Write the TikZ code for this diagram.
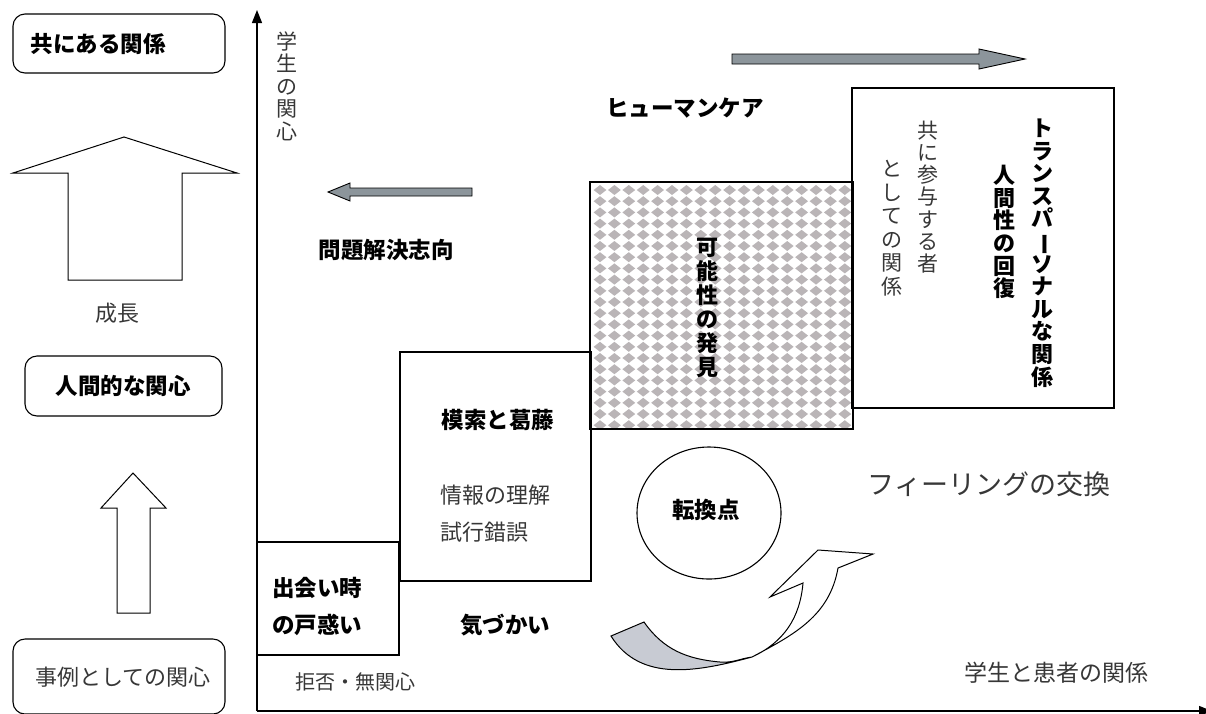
\documentclass[tikz,border=0pt]{standalone}
\usepackage{fontspec}
\usepackage{graphicx}
\newfontfamily\jp{Noto Sans CJK JP}
\usetikzlibrary{arrows.meta}
\definecolor{arrgray}{RGB}{140,149,155}
\definecolor{dia}{RGB}{186,181,183}
\definecolor{shadec}{RGB}{200,203,211}
\definecolor{lt}{RGB}{55,55,55}
\newcommand{\vbar}{\rotatebox[origin=c]{-90}{ー}}
\begin{document}
\begin{tikzpicture}[x=1pt,y=-1pt,line join=miter,
  rbox/.style={draw,line width=1.1pt,rounded corners=12pt},
  sbox/.style={draw,line width=1.2pt},
  garr/.style={draw,line width=0.9pt,fill=arrgray},
  warr/.style={draw,line width=1pt,fill=white},
  jb/.style={font=\jp\bfseries\fontsize{22.5}{27}\selectfont,inner sep=0pt},
  jl/.style={font=\jp\fontsize{22}{27}\selectfont,text=lt,inner sep=0pt},
  jbv/.style={font=\jp\bfseries\fontsize{22}{23}\selectfont,inner sep=0pt,align=center},
  jlv/.style={font=\jp\fontsize{21}{22.5}\selectfont,text=lt,inner sep=0pt,align=center}]
\useasboundingbox (0,0) rectangle (1206,713);

% ---------- left column ----------
\draw[rbox] (13,14) rectangle (225,73);
\node[jb] (tomo) at (98,44) {共にある関係};
\draw[warr] (68,280) -- (68,173) -- (13,173) -- (124,137) -- (237,173) -- (182,173) -- (182,280) -- cycle;
\node[jl] (seicho) at (117,313) {成長};
\draw[rbox] (25,356) rectangle (222,416);
\node[jb] (ningen) at (123,386) {人間的な関心};
\draw[warr] (117,613) -- (117,508) -- (101,508) -- (133,473) -- (166,508) -- (150,508) -- (150,613) -- cycle;
\draw[rbox] (13,639) rectangle (225,714);
\node[jl] (jirei) at (123,677) {事例としての関心};

% ---------- axes ----------
\coordinate (O) at (257,711);
\coordinate (Ytop) at (257,10);
\coordinate (Xend) at (1212,711);
\draw[line width=1.4pt,-{Triangle[length=13pt,width=10pt]}] (O) -- (Ytop);
\draw[line width=1.4pt,-{Triangle[length=13pt,width=10pt]}] (O) -- (Xend);
\node[jlv] (ykan) at (287,86) {学\\生\\の\\関\\心};

% ---------- pattern box ----------
\begin{scope}
\clip (590,182) rectangle (853,429);
\foreach \i in {0,...,19}{
  \foreach \j in {0,...,23}{
    \fill[dia] ({600+\i*14.4},{190+\j*11.2}) +(-6.4,0) -- +(0,-5) -- +(6.4,0) -- +(0,5) -- cycle;
  }
}
\end{scope}
\draw[sbox] (590,182) rectangle (853,429);
\node[jbv,font=\jp\bfseries\fontsize{22}{24}\selectfont] (kanou) at (707,308) {可\\能\\性\\の\\発\\見};

% ---------- other boxes ----------
\draw[sbox] (852,88) rectangle (1114,408);
\node[jbv,font=\jp\bfseries\fontsize{22}{22.6}\selectfont] (trans) at (1042,253) {ト\\ラ\\ン\\ス\\パ\\\vbar\\ソ\\ナ\\ル\\な\\関\\係};
\node[jbv,font=\jp\bfseries\fontsize{22}{22.6}\selectfont] (kaifuku) at (1004,232) {人\\間\\性\\の\\回\\復};
\node[jlv,font=\jp\fontsize{21}{22.2}\selectfont] (sanyo) at (928,197) {共\\に\\参\\与\\す\\る\\者};
\node[jlv,font=\jp\fontsize{21}{23.5}\selectfont] (toshite) at (892,228) {と\\し\\て\\の\\関\\係};

\draw[sbox] (400,352) rectangle (591,581);
\node[jb] (mosaku) at (498,420) {模索と葛藤};
\node[jl,anchor=west] (joho) at (440,495) {情報の理解};
\node[jl,anchor=west] (shiko) at (440,532) {試行錯誤};

\draw[sbox] (257,542) rectangle (399,655);
\node[jb,anchor=west] (deai1) at (272,588) {出会い時};
\node[jb,anchor=west] (deai2) at (272,625) {の戸惑い};

\node[jb] (kizu) at (505,625) {気づかい};
\node[jl,anchor=west,font=\jp\fontsize{20}{24}\selectfont] (kyohi) at (295,682) {拒否・無関心};

% ---------- free labels ----------
\node[jb] (human) at (685,108) {ヒューマンケア};
\node[jb] (mondai) at (386,250) {問題解決志向};
\node[jl,font=\jp\fontsize{27}{32}\selectfont] (feel) at (989,484) {フィーリングの交換};
\node[jl,font=\jp\fontsize{23}{28}\selectfont] (gakusei) at (1056,673) {学生と患者の関係};

% ---------- gray arrows ----------
\draw[garr] (472,188) -- (350,188) -- (350,183) -- (328,192) -- (350,201) -- (350,196) -- (472,196) -- cycle;
\draw[garr] (732,54) -- (979,54) -- (979,49) -- (1025,59) -- (979,69) -- (979,64) -- (732,64) -- cycle;

% ---------- turning point ----------
\draw[line width=1.1pt] (709,513) ellipse [x radius=72,y radius=66];
\node[jb] (tenkan) at (706,510) {転換点};

% ---------- curved arrow ----------
\coordinate (A) at (611,636);
\coordinate (B) at (644,622);
\coordinate (X) at (752,657);
\coordinate (L) at (803,583);
\coordinate (b1) at (770,597);
\coordinate (h1) at (818,550);
\coordinate (h2) at (873,554);
\coordinate (R) at (838,568);
\draw[line width=1pt,fill=shadec] (A) to[out=-58,in=195] (X) to[out=188,in=-5] (720,662) to[out=175,in=-55] (B) -- cycle;
\draw[line width=1pt,fill=white] (X) to[out=25,in=-95] (L) -- (b1) -- (h1) -- (h2) -- (R) to[out=-100,in=28] (X) -- cycle;
\end{tikzpicture}
\end{document}
